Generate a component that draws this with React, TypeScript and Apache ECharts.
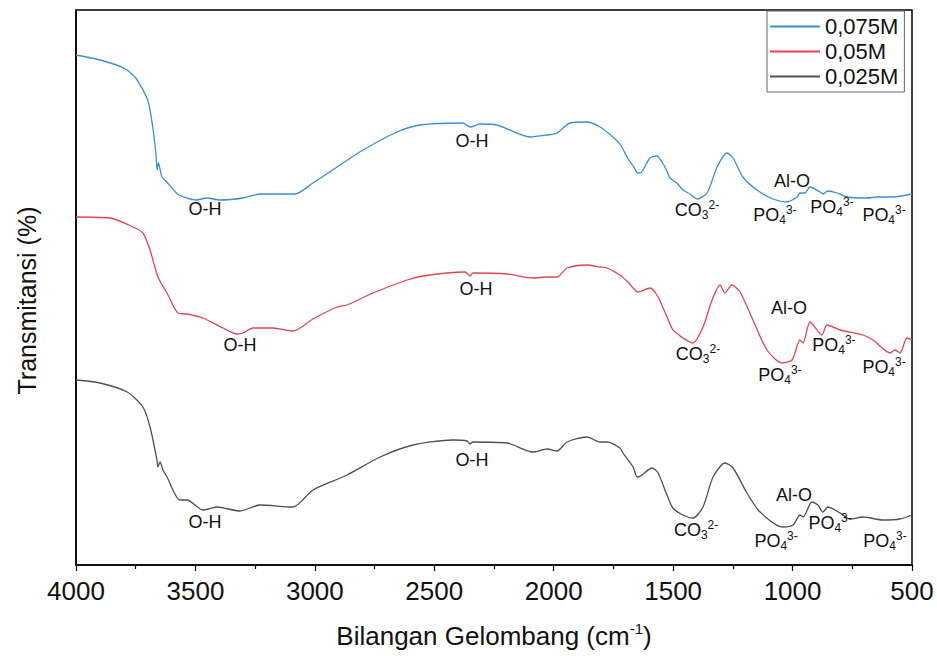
import React, { useEffect, useRef } from "react";
import * as echarts from "echarts";

const seriesNames = ["0,075M", "0,05M", "0,025M"];
const seriesColors = ["#3a8dd8", "#e0464e", "#505050"];

// 0,075M (blue)
const blueWn = [4000, 3900, 3800, 3750, 3700, 3680, 3665, 3660, 3655, 3640, 3620, 3580, 3560, 3500, 3450, 3400, 3300, 3230, 3083, 3008, 2907, 2798, 2656, 2560, 2380, 2350, 2309, 2237, 2099, 2028, 1986, 1932, 1861, 1806, 1752, 1720, 1693, 1670, 1647, 1639, 1626, 1597, 1568, 1547, 1530, 1513, 1485, 1459, 1430, 1400, 1358, 1316, 1275, 1249, 1208, 1149, 1082, 1023, 982, 969, 948, 927, 885, 873, 852, 814, 772, 688, 647, 580, 500];
const blueT = [510, 505, 497, 487, 465, 440, 410, 395, 402, 388, 383, 372, 369, 365, 367, 365, 367, 371, 371, 382, 398, 415, 433, 440, 442, 438, 441, 440, 428, 430, 432, 442, 443, 438, 428, 420, 408, 400, 392, 392, 395, 407, 409, 403, 396, 387, 382, 375, 371, 366, 372, 398, 412, 407, 388, 375, 366, 363, 368, 372, 372, 378, 373, 371, 374, 372, 368, 367, 368, 368, 371];

// 0,05M (red)
const redWn = [4000, 3858, 3761, 3720, 3690, 3657, 3619, 3573, 3535, 3468, 3385, 3326, 3301, 3259, 3175, 3092, 3008, 2907, 2865, 2757, 2614, 2547, 2447, 2371, 2350, 2338, 2196, 2087, 2028, 1986, 1944, 1861, 1806, 1777, 1723, 1690, 1668, 1647, 1597, 1563, 1526, 1501, 1480, 1459, 1417, 1375, 1337, 1304, 1283, 1254, 1220, 1166, 1107, 1044, 1002, 969, 956, 927, 877, 856, 801, 705, 663, 592, 571, 550, 521, 500];
const redT = [348, 347, 338, 332, 315, 288, 272, 252, 251, 247, 237, 231, 232, 237, 237, 234, 246, 258, 260, 272, 285, 289, 292, 293, 289, 292, 291, 287, 288, 288, 297, 300, 298, 297, 290, 283, 277, 273, 277, 268, 248, 235, 231, 227, 222, 238, 265, 280, 272, 280, 273, 245, 215, 202, 205, 225, 222, 243, 230, 240, 235, 230, 225, 212, 215, 212, 227, 225];

// 0,025M (black)
const blackWn = [4000, 3900, 3786, 3720, 3690, 3661, 3657, 3648, 3636, 3619, 3565, 3535, 3468, 3410, 3313, 3230, 3092, 3008, 2865, 2727, 2589, 2422, 2363, 2350, 2338, 2196, 2087, 2028, 1986, 1944, 1861, 1806, 1777, 1723, 1710, 1668, 1651, 1647, 1589, 1563, 1526, 1501, 1459, 1417, 1375, 1333, 1283, 1249, 1191, 1136, 1040, 998, 969, 956, 919, 894, 873, 852, 801, 760, 705, 621, 550, 500];
const blackT = [185, 182, 173, 158, 138, 105, 98, 103, 95, 88, 65, 65, 55, 58, 54, 60, 58, 75, 90, 108, 120, 125, 124, 121, 123, 122, 113, 116, 114, 123, 128, 123, 123, 117, 112, 98, 88, 88, 97, 92, 70, 57, 50, 47, 58, 88, 102, 97, 72, 53, 38, 40, 50, 48, 63, 60, 53, 58, 52, 46, 48, 45, 46, 50];

const OH = "O-H";
const ALO = "Al-O";
const CO3 = "{m|CO}{sub|3}{sup|2-}";
const PO4 = "{m|PO}{sub|4}{sup|3-}";

// [label, wavenumber, transmittance] of each band label
const blueLabels: [string, number, number][] = [
  [OH, 3460, 356], [OH, 2342, 424], [CO3, 1400, 355], [ALO, 1002, 384],
  [PO4, 1074, 350], [PO4, 835, 358], [PO4, 617, 350],
];
const redLabels: [string, number, number][] = [
  [OH, 3313, 220], [OH, 2325, 276], [CO3, 1396, 211], [ALO, 1015, 257],
  [PO4, 1053, 190], [PO4, 827, 220], [PO4, 617, 198],
];
const blackLabels: [string, number, number][] = [
  [OH, 3460, 43], [OH, 2342, 105], [CO3, 1404, 35], [ALO, 994, 70],
  [PO4, 1069, 24], [PO4, 843, 42], [PO4, 613, 24],
];

const FONT = "'Liberation Sans', Arial, sans-serif";

export default function App() {
  const ref = useRef<HTMLDivElement>(null);
  useEffect(() => {
    document.body.style.margin = "0";
    const chart = echarts.init(ref.current!, null, { renderer: "svg" });
    const rich = {
      m: { fontSize: 18, fontFamily: FONT, color: "#111", lineHeight: 22 },
      sub: { fontSize: 12, fontFamily: FONT, color: "#111", lineHeight: 12, verticalAlign: "bottom" },
      sup: { fontSize: 12, fontFamily: FONT, color: "#111", lineHeight: 12, verticalAlign: "top" },
    };
    const mk = (i: number, wn: number[], t: number[], labels: [string, number, number][]) => ({
      type: "line",
      name: seriesNames[i],
      data: wn.map((w, k) => [w, t[k]]),
      symbol: "none",
      smooth: 0.25,
      lineStyle: { color: seriesColors[i], width: 1.3 },
      itemStyle: { color: seriesColors[i] },
      markPoint: {
        symbol: "rect",
        symbolSize: 1,
        itemStyle: { color: "rgba(0,0,0,0)" },
        label: {
          show: true,
          position: "inside",
          formatter: "{b}",
          color: "#111",
          fontSize: 18,
          fontFamily: FONT,
          rich,
        },
        data: labels.map((a) => ({ name: a[0], coord: [a[1], a[2]] })),
      },
    });
    chart.setOption({
      animation: false,
      backgroundColor: "#fff",
      grid: { left: 76, right: 25, top: 10, bottom: 91, show: true, borderColor: "#000", borderWidth: 1.5 },
      legend: {
        orient: "vertical",
        left: 767,
        top: 11,
        padding: [3, 6, 3, 3],
        icon: "rect",
        itemWidth: 50,
        itemHeight: 2,
        itemGap: 0,
        backgroundColor: "#fff",
        borderColor: "#666",
        borderWidth: 1,
        textStyle: { fontSize: 22, fontFamily: FONT, color: "#111", lineHeight: 25 },
        data: seriesNames,
      },
      xAxis: {
        type: "value",
        inverse: true,
        min: 500,
        max: 4000,
        interval: 500,
        name: "{a|Bilangan Gelombang (cm}{s|-1}{a|)}",
        nameLocation: "middle",
        nameGap: 56,
        nameTextStyle: {
          rich: {
            a: { fontSize: 26, fontFamily: FONT, color: "#111", lineHeight: 30 },
            s: { fontSize: 15, fontFamily: FONT, color: "#111", lineHeight: 15, verticalAlign: "top" },
          },
        },
        axisLine: { lineStyle: { color: "#000", width: 1.5 } },
        axisTick: { show: true, inside: false, length: 6, lineStyle: { color: "#000", width: 1.2 } },
        minorTick: { show: true, splitNumber: 2, length: 4, lineStyle: { color: "#000", width: 1.2 } },
        axisLabel: {
          fontSize: 26,
          fontFamily: FONT,
          color: "#111",
          margin: 13,
          formatter: (v: number) => String(v),
        },
        splitLine: { show: false },
      },
      yAxis: {
        type: "value",
        min: 0,
        max: 555,
        name: "Transmitansi (%)",
        nameLocation: "middle",
        nameGap: 37,
        nameTextStyle: { fontSize: 25, fontFamily: FONT, color: "#111", padding: [0, 26, 0, 0] },
        axisLine: { show: true, lineStyle: { color: "#000", width: 1.5 } },
        axisTick: { show: false },
        axisLabel: { show: false },
        splitLine: { show: false },
      },
      series: [
        mk(0, blueWn, blueT, blueLabels),
        mk(1, redWn, redT, redLabels),
        mk(2, blackWn, blackT, blackLabels),
      ],
    });
    return () => chart.dispose();
  }, []);
  return <div ref={ref} style={{ width: 937, height: 656 }} />;
}
